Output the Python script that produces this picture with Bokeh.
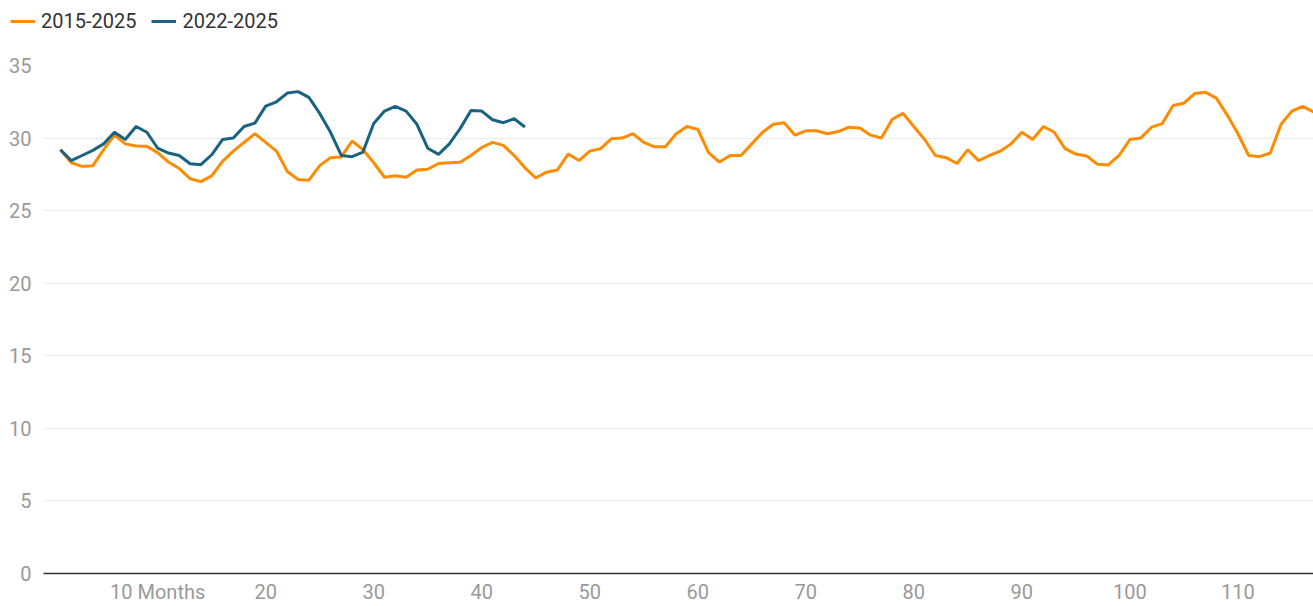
from bokeh.plotting import figure
from bokeh.layouts import column
from bokeh.models import Legend, LegendItem, FixedTicker, Range1d
from bokeh.embed import file_html
from bokeh.resources import INLINE

months_a = list(range(1, 118))
series_2015_2025 = [
    29.2, 28.3, 28.05, 28.1, 29.2, 30.2, 29.6, 29.45, 29.43, 29.0,
    28.35, 27.9, 27.2, 27.0, 27.4, 28.4, 29.1, 29.7, 30.3, 29.7,
    29.1, 27.7, 27.15, 27.1, 28.1, 28.65, 28.7, 29.8, 29.2, 28.3,
    27.3, 27.4, 27.3, 27.8, 27.85, 28.25, 28.3, 28.33, 28.8, 29.35,
    29.7, 29.5, 28.8, 27.95, 27.25, 27.65, 27.8, 28.9, 28.45, 29.1,
    29.27, 29.95, 30.0, 30.3, 29.7, 29.4, 29.4, 30.3, 30.8, 30.6,
    29.0, 28.35, 28.8, 28.8, 29.6, 30.4, 30.95, 31.05, 30.2, 30.5,
    30.5, 30.3, 30.45, 30.75, 30.7, 30.2, 30.0, 31.3, 31.7, 30.8,
    29.9, 28.8, 28.65, 28.25, 29.2, 28.45, 28.8, 29.1, 29.6, 30.4,
    29.9, 30.8, 30.4, 29.27, 28.9, 28.77, 28.2, 28.15, 28.8, 29.9,
    30.0, 30.75, 31.0, 32.25, 32.4, 33.07, 33.16, 32.75, 31.6, 30.3,
    28.8, 28.72, 28.97, 30.95, 31.86, 32.18, 31.8,
]
months_b = list(range(1, 45))
series_2022_2025 = [
    29.2, 28.45, 28.8, 29.15, 29.6, 30.4, 29.9, 30.8, 30.4, 29.3,
    28.97, 28.8, 28.23, 28.17, 28.85, 29.9, 30.0, 30.8, 31.03, 32.2,
    32.5, 33.1, 33.2, 32.8, 31.7, 30.4, 28.8, 28.72, 29.04, 31.0,
    31.86, 32.18, 31.86, 30.95, 29.3, 28.88, 29.6, 30.65, 31.9, 31.86,
    31.26, 31.06, 31.33, 30.76,
]
x_ticks = [10, 20, 30, 40, 50, 60, 70, 80, 90, 100, 110]
x_tick_labels = ["10 Months", "20", "30", "40", "50", "60", "70", "80", "90", "100", "110"]
y_ticks = [0, 5, 10, 15, 20, 25, 30, 35]
series_names = ["2015-2025", "2022-2025"]
colors = ["#ff8c00", "#1a6380"]

FONT = "Roboto"
LEG_H = 40
NAN = float("nan")

# ---- legend strip (separate figure so the key is not clipped by the chart frame)
leg = figure(width=1313, height=LEG_H, output_backend="svg", toolbar_location=None,
             x_range=Range1d(0, 1), y_range=Range1d(0, 1),
             x_axis_location=None, y_axis_location=None,
             min_border_left=0, min_border_right=0, min_border_top=0,
             min_border_bottom=0)
leg.frame_align = False
leg.outline_line_color = None
leg.grid.grid_line_color = None
# invisible proxies (NaN -> nothing drawn) that only provide the legend keys
k1 = leg.line([NAN], [NAN], line_color=colors[0], line_width=3)
k2 = leg.line([NAN], [NAN], line_color=colors[1], line_width=3)
legend = Legend(items=[LegendItem(label=series_names[0], renderers=[k1]),
                       LegendItem(label=series_names[1], renderers=[k2])],
                location=(10, 7), orientation="horizontal",
                padding=0, margin=0, spacing=15, glyph_width=25, glyph_height=20,
                label_standoff=6, label_text_font=FONT, label_text_font_size="20px",
                label_text_color="#333333", border_line_alpha=0,
                background_fill_alpha=0)
leg.add_layout(legend, "center")

# ---- main chart
p = figure(width=1313, height=606 - LEG_H, output_backend="svg", toolbar_location=None,
           x_range=Range1d(-0.57, 117), y_range=Range1d(0, 35),
           min_border_left=43, min_border_right=0, min_border_top=65 - LEG_H,
           min_border_bottom=32)
p.frame_align = False
p.outline_line_color = None
p.background_fill_color = "white"
p.border_fill_color = "white"

p.line(months_a, series_2015_2025, line_color=colors[0], line_width=3)
p.line(months_b, series_2022_2025, line_color=colors[1], line_width=3)

p.xgrid.grid_line_color = None
p.ygrid.grid_line_color = "#ececec"
p.ygrid.grid_line_width = 1

p.xaxis.ticker = FixedTicker(ticks=x_ticks)
p.xaxis.major_label_overrides = {t: l for t, l in zip(x_ticks, x_tick_labels)}
p.xaxis.axis_line_color = "#333333"
p.xaxis.axis_line_width = 1.6
p.xaxis.major_tick_line_color = None
p.xaxis.minor_tick_line_color = None
p.xaxis.major_label_text_color = "#999999"
p.xaxis.major_label_text_font = FONT
p.xaxis.major_label_text_font_size = "20px"
p.xaxis.major_label_standoff = 0

p.yaxis.ticker = FixedTicker(ticks=y_ticks)
p.yaxis.axis_line_color = None
p.yaxis.major_tick_line_color = None
p.yaxis.minor_tick_line_color = None
p.yaxis.major_label_text_color = "#999999"
p.yaxis.major_label_text_font = FONT
p.yaxis.major_label_text_font_size = "20px"
p.yaxis.major_label_standoff = 6

layout = column(leg, p, spacing=0)
open("out.html", "w").write(file_html(layout, INLINE))
